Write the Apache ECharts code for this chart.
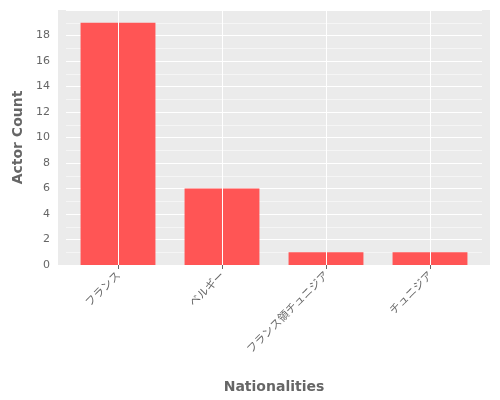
<!DOCTYPE html>
<html><head><meta charset="utf-8">
<script src="https://cdn.jsdelivr.net/npm/echarts@6/dist/echarts.min.js"></script>
<style>html,body{margin:0;padding:0;background:#fff}#c{width:500px;height:400px}</style>
</head><body><div id="c"></div>
<script>
const categories = ["フランス", "ベルギー", "フランス領チュニジア", "チュニジア"];
const counts = [19, 6, 1, 1];
const chart = echarts.init(document.getElementById('c'));
chart.setOption({
  animation: false,
  graphic: [{type: 'rect', z: -10, silent: true, shape: {x: 58, y: 10, width: 432, height: 255}, style: {fill: '#EBEBEB'}}],
  grid: {left: 66, right: 18, top: 10, bottom: 135, show: false},
  xAxis: {
    type: 'category', data: categories,
    name: 'Nationalities', nameLocation: 'middle', nameGap: 115,
    nameTextStyle: {fontSize: 14, fontWeight: 'bold', color: '#666', fontFamily: 'DejaVu Sans'},
    axisLine: {show: false},
    axisTick: {show: true, alignWithLabel: true, lineStyle: {color: '#666'}, length: 4},
    axisLabel: {rotate: 45, color: '#666', fontSize: 11, fontFamily: 'Noto Sans CJK JP', margin: 8},
    splitLine: {show: false}
  },
  yAxis: {
    type: 'value', min: 0, max: 20, interval: 2,
    name: 'Actor Count', nameLocation: 'middle', nameGap: 38,
    nameTextStyle: {fontSize: 14, fontWeight: 'bold', color: '#666', fontFamily: 'DejaVu Sans'},
    axisLine: {show: false},
    axisTick: {show: false},
    axisLabel: {color: '#666', fontSize: 11, fontFamily: 'DejaVu Sans', margin: 16, formatter: v => v === 20 ? '' : v},
    splitLine: {lineStyle: {color: '#fff', width: 1}},
    minorTick: {show: false, splitNumber: 2},
    minorSplitLine: {show: true, lineStyle: {color: '#fff', width: 0.5}}
  },
  series: [
    {type: 'line', data: [], z: 1, silent: true,
     markLine: {silent: true, symbol: 'none', label: {show: false},
       lineStyle: {color: '#fff', type: 'solid', width: 1},
       data: categories.map(c => ({xAxis: c}))}},
    {type: 'bar', data: counts, barWidth: '72%', z: 3, itemStyle: {color: '#FF5555'}}
  ]
});
</script></body></html>
